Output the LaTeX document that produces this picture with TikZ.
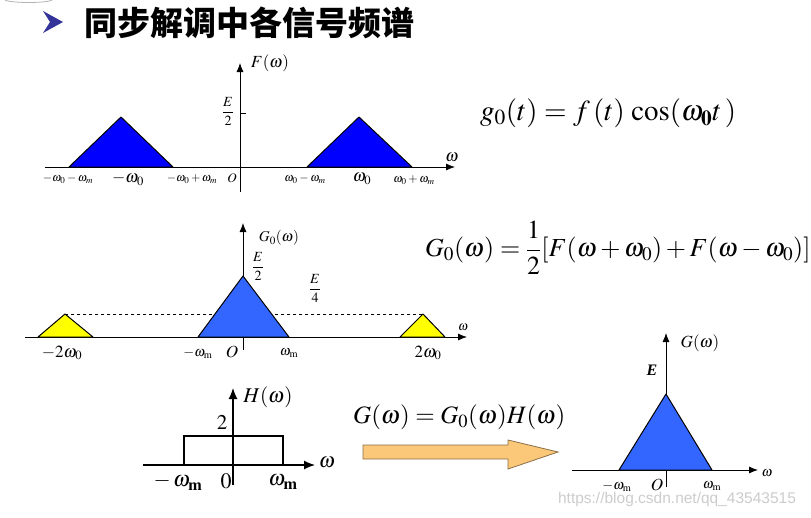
\documentclass[tikz,border=0pt]{standalone}
\usepackage{amsmath}
\usepackage{mathptmx}
\usepackage[no-math]{fontspec}
\newfontfamily\cjk{Noto Sans CJK SC}
\newfontfamily\wmfont{Liberation Sans}
\newfontfamily\timesfont{Liberation Serif}
\usetikzlibrary{arrows.meta}
\definecolor{cBlue}{RGB}{0,0,255}
\definecolor{cMid}{RGB}{51,102,255}
\definecolor{cYel}{RGB}{255,255,0}
\definecolor{cArrow}{RGB}{250,200,120}
\definecolor{cArrowLine}{RGB}{140,110,70}
\definecolor{cMark}{RGB}{51,51,153}
\tikzset{
	axis/.style   ={-{Latex[length=9pt,width=7pt]}, line width=0.8pt},
	tri/.style    ={draw=black, line width=1pt, line join=round},
	lbl/.style    ={inner sep=0pt, font=\fontsize{12}{12}\selectfont},
	big/.style    ={inner sep=0pt, font=\fontsize{17}{17}\selectfont},
	eqn/.style    ={inner sep=0pt, font=\fontsize{26}{26}\selectfont},
}

\begin{document}
\begin{tikzpicture}[x=1pt, y=-1pt]
	\useasboundingbox (0,0) rectangle (811,517);
	% title
	\draw[gray!60, line width=0.8pt] (5,0) arc[start angle=190, end angle=350, x radius=24pt, y radius=3pt];
	\fill[cMark] (43,11) -- (63,22) -- (43,33) -- (50,22) -- cycle;
	\node[anchor=west, inner sep=0pt, font=\cjk\bfseries\fontsize{33}{33}\selectfont] (title) at (84,23) {同步解调中各信号频谱};

	% F(omega)
	\coordinate (fO) at (240,167);
	\draw[axis] (45,167) -- (455,167);
	\draw[axis] (240,192) -- (240,63);
	\filldraw[tri, fill=cBlue] (69,167) -- (121,117) -- (173,167) -- cycle;
	\filldraw[tri, fill=cBlue] (307,167) -- (359,117) -- (412,167) -- cycle;
	\draw[line width=0.8pt] (240,113) -- (246,113);
	\node[big] (fLab) at (270,63) {$F(\omega)$};
	\node[lbl, font=\fontsize{14}{14}\selectfont] (fHalf) at (228,111) {$\dfrac{E}{2}$};
	\node[big] (fW) at (452,157) {$\omega$};
	\node[lbl] (f1) at (68,179) {$-\omega_0-\omega_m$};
	\node[big] (f2) at (128,179) {$-\omega_0$};
	\node[lbl] (f3) at (192,179) {$-\omega_0+\omega_m$};
	\node[lbl, font=\fontsize{13}{13}\selectfont] (f4) at (232,178) {$O$};
	\node[lbl] (f5) at (305,179) {$\omega_0-\omega_m$};
	\node[big] (f6) at (362,179) {$\omega_0$};
	\node[lbl] (f7) at (414,180) {$\omega_0+\omega_m$};

	\node[eqn, font=\fontsize{29}{29}\selectfont, anchor=west] (eqA) at (480,113) {$g_0(t)=f\,(t)\,\cos(\omega_{\mathbf 0}t\,)$};

	% G0(omega)
	\draw[axis] (25,337) -- (467,337);
	\draw[axis] (243,350) -- (243,223);
	\draw[dashed, line width=0.6pt] (65,314) -- (423,314);
	\filldraw[tri, fill=cYel] (38,337) -- (65,314) -- (93,337) -- cycle;
	\filldraw[tri, fill=cYel] (400,337) -- (423,314) -- (445,337) -- cycle;
	\filldraw[tri, fill=cMid] (198,337) -- (243,276) -- (289,337) -- cycle;
	\node[lbl, font=\fontsize{15}{15}\selectfont] (gLab) at (279,238) {$G_0(\omega)$};
	\node[lbl, font=\fontsize{14}{14}\selectfont] (gHalf) at (258,266) {$\dfrac{E}{2}$};
	\node[lbl, font=\fontsize{14}{14}\selectfont] (gQuart) at (315,288) {$\dfrac{E}{4}$};
	\node[lbl, font=\fontsize{13}{13}\selectfont] (gW) at (463,327) {$\omega$};
	\node[big] (g1) at (62,353) {$-2\omega_0$};
	\node[lbl, font=\fontsize{14}{14}\selectfont] (g2) at (198,353) {$-\omega_{\mathrm{m}}$};
	\node[big] (g3) at (232,352) {$O$};
	\node[lbl, font=\fontsize{14}{14}\selectfont] (g4) at (289,353) {$\omega_{\mathrm{m}}$};
	\node[big] (g5) at (428,353) {$2\omega_0$};

	\node[eqn, anchor=west] (eqB) at (425,248) {$G_0(\omega)=\dfrac{1}{2}[F(\omega+\omega_0)+F(\omega-\omega_0)]$};

	% H(omega)
	\draw[-{Latex[length=11pt,width=9pt]}, line width=1.2pt] (143,465) -- (315,465);
	\draw[-{Latex[length=11pt,width=9pt]}, line width=1.2pt] (233,485) -- (233,388);
	\draw[line width=2.5pt] (184,465) -- (184,436) -- (283,436) -- (283,465);
	\node[big, font=\fontsize{21}{21}\selectfont] (hLab) at (268,397) {$H(\omega)$};
	\node[big, font=\fontsize{21}{21}\selectfont] (hTwo) at (222,422) {$2$};
	\node[big, font=\fontsize{21}{21}\selectfont] (hW) at (327,462) {$\omega$};
	\node[big, font=\fontsize{22}{22}\selectfont] (h1) at (178,482) {$-\,\omega_{\mathbf m}$};
	\node[big, font=\fontsize{22}{22}\selectfont] (h2) at (226,481) {$0$};
	\node[big, font=\fontsize{22}{22}\selectfont] (h3) at (283,482) {$\omega_{\mathbf m}$};

	\node[eqn, font=\fontsize{25}{25}\selectfont, anchor=west] (eqC) at (353,417) {$G(\omega)=G_0(\omega)H(\omega)$};
	\filldraw[fill=cArrow, draw=cArrowLine, line width=0.8pt]
		(363,445) -- (508,445) -- (508,440) -- (558,452) -- (508,469) -- (508,459) -- (363,459) -- cycle;

	% G(omega)
	\draw[axis] (572,470) -- (758,470);
	\draw[axis] (666,487) -- (666,333);
	\filldraw[tri, fill=cMid] (619,470) -- (666,394) -- (712,470) -- cycle;
	\node[big] (rLab) at (700,343) {$G(\omega)$};
	\node[inner sep=0pt, font=\timesfont\bfseries\itshape\fontsize{16}{16}\selectfont] (rE) at (652,370) {E};
	\node[lbl, font=\fontsize{14}{14}\selectfont] (rW) at (767,473) {$\omega$};
	\node[lbl, font=\fontsize{14}{14}\selectfont] (r1) at (617,486) {$-\omega_{\mathrm{m}}$};
	\node[big] (r2) at (657,485) {$O$};
	\node[lbl, font=\fontsize{14}{14}\selectfont] (r3) at (712,486) {$\omega_{\mathrm{m}}$};

	\node[inner sep=0pt, text=gray!40, font=\wmfont\fontsize{15.5}{15.5}\selectfont] (mark) at (677,499) {https://blog.csdn.net/qq\_43543515};
\end{tikzpicture}
\end{document}
